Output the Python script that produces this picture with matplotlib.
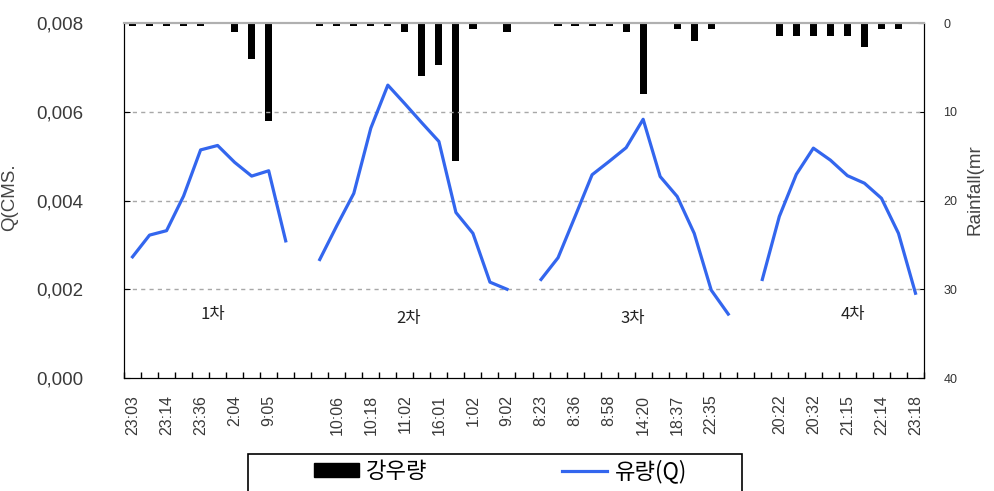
import numpy as np
import matplotlib
matplotlib.use('Agg')
import matplotlib.pyplot as plt
from matplotlib.patches import Rectangle, Patch
from matplotlib.lines import Line2D
from matplotlib.ticker import FuncFormatter

nan = np.nan

# ---------------- data ----------------
time_labels = (['23:03', '', '23:14', '', '23:36', '', '2:04', '', '9:05', '']
               + ['']
               + ['', '10:06', '', '10:18', '', '11:02', '', '16:01', '', '1:02', '', '9:02']
               + ['']
               + ['8:23', '', '8:36', '', '8:58', '', '14:20', '', '18:37', '', '22:35', '']
               + ['']
               + ['', '20:22', '', '20:32', '', '21:15', '', '22:14', '', '23:18'])

flow_q = ([0.00273, 0.00322, 0.00332, 0.0041, 0.00514, 0.00524, 0.00486, 0.00455, 0.00467, 0.00309]
          + [nan]
          + [0.00267, 0.00343, 0.00416, 0.00563, 0.0066, 0.00618, 0.00575, 0.00533, 0.00373, 0.00326, 0.00216, 0.0020]
          + [nan]
          + [0.00222, 0.00271, 0.00364, 0.00458, 0.00488, 0.00519, 0.00583, 0.00454, 0.00409, 0.00326, 0.00198, 0.00144]
          + [nan]
          + [0.00222, 0.00364, 0.00459, 0.00518, 0.00491, 0.00456, 0.00439, 0.00405, 0.00326, 0.00191])

rainfall = ([0.3, 0.3, 0.3, 0.3, 0.3, 0, 1.0, 4.0, 11.0, 0]
            + [0]
            + [0.3, 0.3, 0.3, 0.3, 0.3, 1.0, 6.0, 4.7, 15.6, 0.7, 0, 1.0]
            + [0]
            + [0, 0.3, 0.3, 0.3, 0.3, 1.0, 8.0, 0, 0.7, 2.0, 0.7, 0]
            + [0]
            + [0, 1.5, 1.5, 1.5, 1.5, 1.5, 2.7, 0.7, 0.7, 0])

event_names = ['1차', '2차', '3차', '4차']

q_ticks = [0.000, 0.002, 0.004, 0.006, 0.008]
rain_ticks = [0, 10, 20, 30, 40]

# ---------------- layout ----------------
event_label_x = [4.7, 16.2, 29.4, 42.3]
event_label_y = [0.00144, 0.00135, 0.00135, 0.00144]

plt.rcParams['font.family'] = ['Liberation Sans', 'Noto Sans CJK KR', 'DejaVu Sans']
KFONT = ['Noto Sans CJK KR', 'DejaVu Sans']

fig = plt.figure(figsize=(9.95, 4.91), dpi=100)
ax = fig.add_axes([124 / 995, 1 - 378 / 491, 800 / 995, 355 / 491])
ax2 = ax.twinx()

n = len(flow_q)
x = np.arange(n)

# bars (rainfall, inverted right axis)
ax2.bar(x, rainfall, width=0.42, color='black', zorder=2)
ax2.set_ylim(40, 0)
ax2.set_yticks(rain_ticks)

# flow line
ax.set_zorder(ax2.get_zorder() + 1)
ax.patch.set_visible(False)
ax.plot(x, flow_q, color='#3366ee', lw=2.3, solid_joinstyle='round', zorder=3)
ax.set_ylim(0, 0.008)
ax.set_xlim(-0.5, n - 0.5)
ax.set_yticks(q_ticks)
ax.yaxis.set_major_formatter(FuncFormatter(lambda v, p: f'{v:.3f}'.replace('.', ',')))

for g in q_ticks[1:4]:
    ax.axhline(g, color='#a8a8a8', lw=1.0, ls=(0, (3, 3)), zorder=1)

ax.set_xticks(x)
ax.set_xticklabels(time_labels, rotation=90, fontsize=11.5, color='#3a3a3a')
ax.tick_params(axis='x', which='major', length=0, pad=12)
ax.set_xticks(np.arange(-0.5, n, 1.0), minor=True)
ax.tick_params(axis='x', which='minor', direction='in', length=4, width=1, color='black')
ax.tick_params(axis='y', direction='in', length=4, labelsize=13.5, labelcolor='#3a3a3a', pad=29)
ax2.tick_params(axis='y', direction='in', length=4, labelsize=9, labelcolor='#333333', pad=14)

for sp in ['left', 'bottom', 'right']:
    ax.spines[sp].set_color('black')
    ax2.spines[sp].set_color('black')
ax.spines['top'].set_color('#b0b0b0')
ax2.spines['top'].set_color('#b0b0b0')
ax.spines['top'].set_linewidth(1.5)
ax2.spines['top'].set_linewidth(1.5)

for name, ex, ey in zip(event_names, event_label_x, event_label_y):
    ax.text(ex, ey, name, ha='center', va='center', fontsize=12, family=KFONT, color='#222222')

fig.text(10 / 995, 1 - 197 / 491, 'Q(CMS.', rotation=90, ha='center', va='center',
         fontsize=13.5, color='#444444')
fig.text(975 / 995, 1 - 190 / 491, 'Rainfall(mr', rotation=90, ha='center', va='center',
         fontsize=13.5, color='#444444')

# legend
fig.add_artist(Rectangle((248 / 995, -0.01), (742 - 248) / 995, (491 - 454) / 491 + 0.01,
                         transform=fig.transFigure, fill=False, edgecolor='black', lw=1.2))
handles = [Patch(facecolor='black', edgecolor='black'),
           Line2D([0], [0], color='#3366ee', lw=2.3)]
leg = fig.legend(handles, ['강우량', '유량(Q)'], loc='center left',
                 bbox_to_anchor=(303 / 995, 1 - 471 / 491), ncol=2, frameon=False,
                 prop={'family': KFONT, 'size': 16}, handlelength=2.0, handleheight=0.6,
                 handletextpad=0.35, columnspacing=6.05, borderpad=0)

fig.savefig('out.png', dpi=100)
